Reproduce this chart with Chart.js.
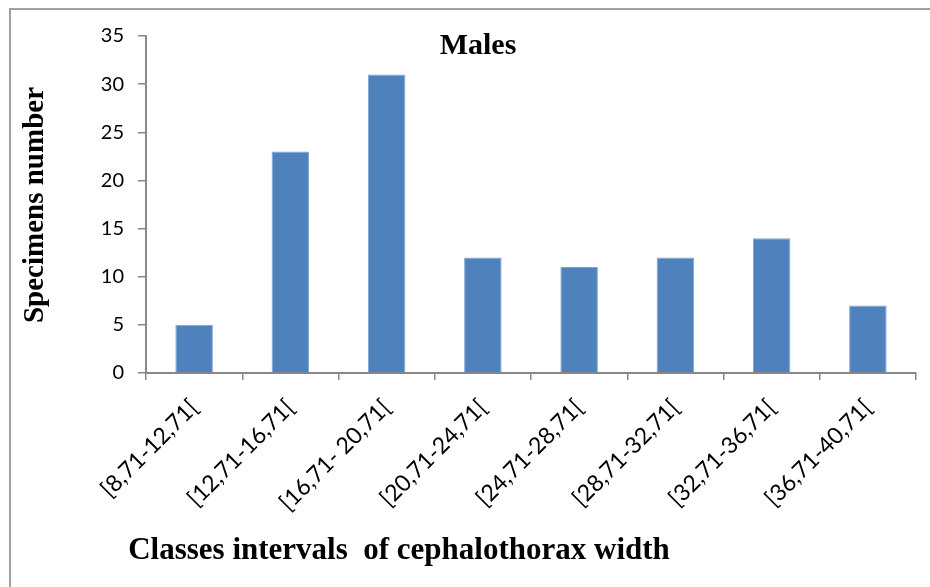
<!DOCTYPE html>
<html>
<head>
<meta charset="utf-8">
<script src="https://cdn.jsdelivr.net/npm/chart.js@4"></script>
<style>
  html, body { margin: 0; padding: 0; background: #fff; }
  #wrap { width: 930px; height: 587px; position: relative; }
</style>
</head>
<body>
<div id="wrap"><canvas id="c" width="930" height="587"></canvas></div>
<script>
const categories = ["[8,71-12,71[", "[12,71-16,71[", "[16,71- 20,71[", "[20,71-24,71[", "[24,71-28,71[", "[28,71-32,71[", "[32,71-36,71[", "[36,71-40,71["];
const specimens = [5, 23, 31, 12, 11, 12, 14, 7];
const chartTitle = "Males";
const yTitle = "Specimens number";
const xTitle = "Classes intervals  of cephalothorax width";

const PLOT_LEFT = 146, PLOT_TOP = 36, PLOT_RIGHT = 916, PLOT_BOTTOM = 373;
const W = 930, H = 587;

const decorPlugin = {
  id: 'decor',
  beforeDraw(chart) {
    const ctx = chart.ctx;
    ctx.save();
    ctx.strokeStyle = '#a0a0a0';
    ctx.lineWidth = 2;
    ctx.beginPath();
    ctx.moveTo(10, H);
    ctx.lineTo(10, 9);
    ctx.lineTo(W, 9);
    ctx.stroke();
    ctx.restore();
  },
  afterDraw(chart) {
    const ctx = chart.ctx;
    ctx.save();
    ctx.fillStyle = '#000';
    ctx.textAlign = 'center';
    ctx.textBaseline = 'middle';
    ctx.font = 'bold 30px "Liberation Serif", "Times New Roman", serif';
    ctx.fillText(chartTitle, 478, 46);
    ctx.font = 'bold 31px "Liberation Serif", "Times New Roman", serif';
    ctx.fillText(xTitle, 399, 551);
    ctx.translate(36, 205);
    ctx.rotate(-Math.PI / 2);
    ctx.font = 'bold 29px "Liberation Serif", "Times New Roman", serif';
    ctx.fillText(yTitle, 0, 0);
    ctx.restore();
  }
};

new Chart(document.getElementById('c'), {
  type: 'bar',
  data: {
    labels: categories,
    datasets: [{
      data: specimens,
      backgroundColor: '#4F81BD',
      borderColor: '#7FA3D0',
      borderWidth: 1,
      barPercentage: 0.39,
      categoryPercentage: 1.0
    }]
  },
  options: {
    responsive: false,
    animation: false,
    devicePixelRatio: 1,
    layout: { padding: { left: 0, top: PLOT_TOP, right: W - PLOT_RIGHT, bottom: 0 } },
    plugins: { legend: { display: false }, tooltip: { enabled: false }, title: { display: false } },
    scales: {
      x: {
        offset: true,
        grid: { display: true, drawOnChartArea: false, drawTicks: true, tickLength: 7, color: '#888', offset: true, lineWidth: 1.5 },
        border: { display: true, color: '#888', width: 2 },
        ticks: {
          color: '#000',
          font: { family: 'Lato, "Open Sans", sans-serif', size: 23 },
          minRotation: 45, maxRotation: 45,
          padding: 14, autoSkip: false
        },
        afterFit(s) { s.height = H - PLOT_BOTTOM; }
      },
      y: {
        min: 0, max: 35,
        grid: { display: true, drawOnChartArea: false, drawTicks: true, tickLength: 8, color: '#888', lineWidth: 1.5 },
        border: { display: true, color: '#888', width: 2 },
        ticks: {
          stepSize: 5,
          color: '#000',
          font: { family: 'Lato, "Open Sans", sans-serif', size: 20 },
          padding: 14
        },
        afterFit(s) { s.width = PLOT_LEFT; }
      }
    }
  },
  plugins: [decorPlugin]
});
</script>
</body>
</html>
